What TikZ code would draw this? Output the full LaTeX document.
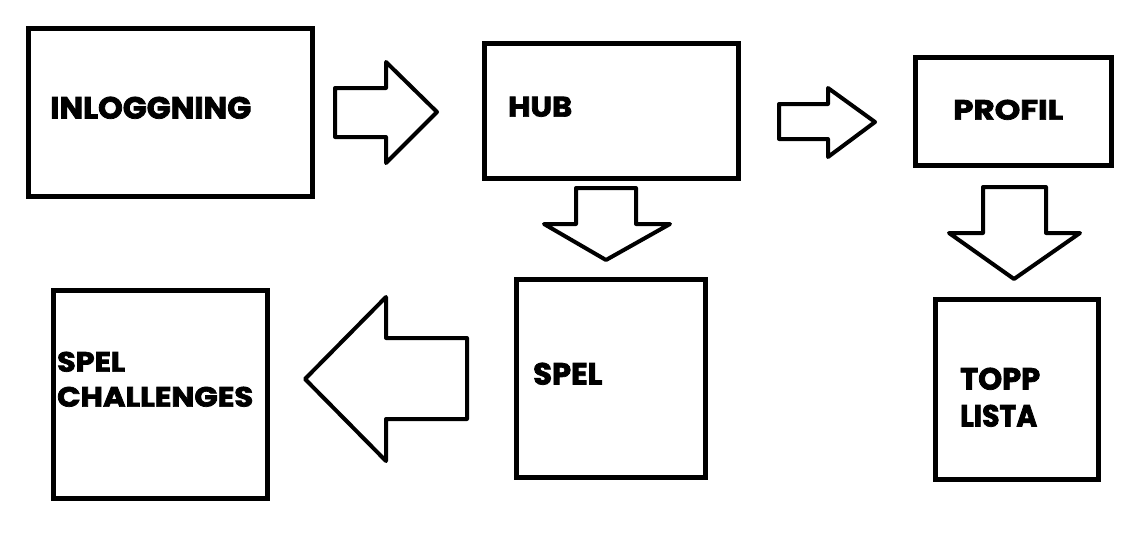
\documentclass[tikz,border=0pt]{standalone}
\usepackage{fontspec}
\setmainfont{Poppins}[BoldFeatures={FakeBold=2.5}]
\usepackage{graphicx}
\newcommand{\fittxt}[3]{\resizebox*{#1pt}{#2pt}{\bfseries #3}}
\tikzset{
  box/.style={draw, line width=5pt, inner sep=0pt, anchor=north west},
  lbl/.style={inner sep=0pt, anchor=south west},
  blockarrow/.style={draw, line width=4pt, line join=round, fill=white},
}
\begin{document}
\begin{tikzpicture}[x=1pt, y=-1pt]
\useasboundingbox[fill=white] (0,0) rectangle (1134,541);

% boxes
\node[box, minimum width=284pt, minimum height=168pt] (inl) at (26,26) {};
\node[box, minimum width=254pt, minimum height=135pt] (hub) at (482,41) {};
\node[box, minimum width=196pt, minimum height=108pt] (profil) at (913,55) {};
\node[box, minimum width=214pt, minimum height=208pt] (spelch) at (51,288) {};
\node[box, minimum width=189pt, minimum height=198pt] (spel) at (514,277) {};
\node[box, minimum width=163pt, minimum height=180pt] (topp) at (933,297) {};

% labels
\node[lbl] (inltxt) at (50,119) {\fittxt{201}{22}{INLOGGNING}};
\node[lbl] (hubtxt) at (508,117) {\fittxt{64}{20}{HUB}};
\node[lbl] (proftxt) at (953,120) {\fittxt{110}{20}{PROFIL}};
\node[lbl] (spelchtxta) at (57,372) {\fittxt{68}{20}{SPEL}};
\node[lbl] (spelchtxtb) at (57,407) {\fittxt{196}{20}{CHALLENGES}};
\node[lbl] (speltxt) at (533,385) {\fittxt{69}{22}{SPEL}};
\node[lbl] (topptxta) at (960,390) {\fittxt{80}{22}{TOPP}};
\node[lbl] (topptxtb) at (960,427) {\fittxt{77}{22}{LISTA}};

% block arrows
\draw[blockarrow] (335,88) -- (386,88) -- (386,62) -- (437,112) -- (386,163) -- (386,137) -- (335,137) -- cycle;
\draw[blockarrow] (779,104) -- (828,104) -- (828,88) -- (875,122) -- (828,157) -- (828,139) -- (779,139) -- cycle;
\draw[blockarrow] (576,188) -- (636,188) -- (636,224) -- (670,224) -- (606,260) -- (544,224) -- (576,224) -- cycle;
\draw[blockarrow] (983,187) -- (1046,187) -- (1046,233) -- (1080,233) -- (1014,279) -- (949,233) -- (983,233) -- cycle;
\draw[blockarrow] (467,338) -- (386,338) -- (386,297) -- (305,379) -- (386,461) -- (386,419) -- (467,419) -- cycle;
\end{tikzpicture}
\end{document}
